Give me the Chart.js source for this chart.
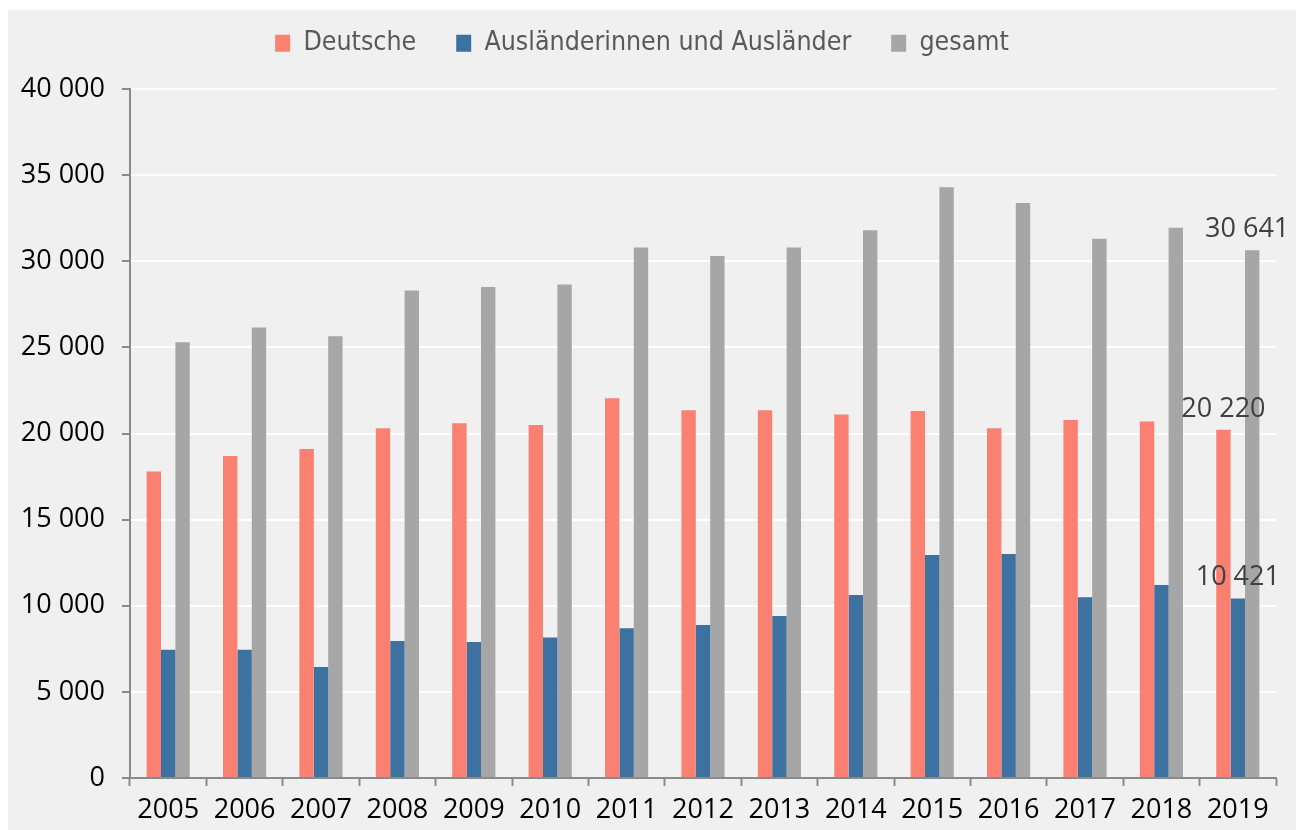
<!DOCTYPE html>
<html>
<head>
<meta charset="utf-8">
<script src="https://cdn.jsdelivr.net/npm/chart.js@4.4.1/dist/chart.umd.min.js"></script>
<style>
  html, body { margin: 0; padding: 0; background: #ffffff; }
  #wrap { position: absolute; left: 8px; top: 10px; width: 1288px; height: 820px; background: #f0f0f0; }
  canvas { display: block; }
</style>
</head>
<body>
<div id="wrap"><canvas id="c" width="1288" height="820"></canvas></div>
<script>
const years = ['2005','2006','2007','2008','2009','2010','2011','2012','2013','2014','2015','2016','2017','2018','2019'];
const deutsche = [17800, 18700, 19100, 20300, 20600, 20500, 22050, 21350, 21350, 21100, 21300, 20300, 20780, 20700, 20220];
const auslaender = [7450, 7450, 6450, 7950, 7900, 8150, 8700, 8880, 9400, 10620, 12950, 13000, 10500, 11200, 10421];
const gesamt = [25300, 26150, 25650, 28300, 28500, 28650, 30800, 30300, 30800, 31800, 34300, 33380, 31300, 31950, 30641];
const seriesNames = ['Deutsche', 'Ausländerinnen und Ausländer', 'gesamt'];
const seriesColors = ['#fa8072', '#3d72a0', '#a6a6a6'];

function fmt(v) {
  return String(Math.round(v)).replace(/\B(?=(\d{3})+(?!\d))/g, ' ');
}

const lastLabels = {
  id: 'lastLabels',
  afterDatasetsDraw(chart) {
    const ctx = chart.ctx;
    ctx.save();
    ctx.font = '27px "Open Sans", sans-serif';
    ctx.fillStyle = '#404040';
    ctx.textAlign = 'center';
    ctx.textBaseline = 'alphabetic';
    chart.data.datasets.forEach((ds, i) => {
      const meta = chart.getDatasetMeta(i);
      const idx = ds.data.length - 1;
      const bar = meta.data[idx];
      const dx = (i === 2) ? -5 : 0;
      ctx.fillText(fmt(ds.data[idx]), bar.x + dx, bar.y - 13);
    });
    ctx.restore();
  }
};

const legendHeightFix = {
  id: 'legendHeightFix',
  beforeLayout(chart) {
    const lg = chart.legend;
    if (lg && !lg._fixed) {
      lg._fixed = true;
      const origFit = lg.fit;
      lg.fit = function () { origFit.apply(this, arguments); this.height = 99; };
    }
  }
};

new Chart(document.getElementById('c'), {
  type: 'bar',
  data: {
    labels: years,
    datasets: [
      { label: seriesNames[0], data: deutsche, backgroundColor: seriesColors[0] },
      { label: seriesNames[1], data: auslaender, backgroundColor: seriesColors[1] },
      { label: seriesNames[2], data: gesamt, backgroundColor: seriesColors[2] }
    ]
  },
  options: {
    responsive: false,
    animation: false,
    devicePixelRatio: 1,
    categoryPercentage: 0.565,
    barPercentage: 1.0,
    layout: { padding: { left: 0, right: 20, top: -20, bottom: 0 } },
    plugins: {
      tooltip: { enabled: false },
      legend: {
        position: 'top',
        align: 'center',
        labels: {
          boxWidth: 15,
          boxHeight: 17,
          padding: 40,
          color: '#595959',
          font: { family: '"Liberation Sans Narrow", "DejaVu Sans Condensed", sans-serif', size: 26.5 }
        }
      }
    },
    scales: {
      x: {
        grid: { display: true, drawOnChartArea: false, drawTicks: true, tickLength: 8, tickColor: '#8a8a8a', tickWidth: 2 },
        border: { display: true, color: '#8a8a8a', width: 2 },
        ticks: { color: '#000000', padding: 8, font: { family: '"Open Sans", sans-serif', size: 27 }, maxRotation: 0 },
        afterFit(scale) { scale.height = 52; }
      },
      y: {
        min: 0,
        max: 40000,
        ticks: { stepSize: 5000, color: '#000000', padding: 17, font: { family: '"Open Sans", sans-serif', size: 27 }, callback: (v) => fmt(v) },
        grid: { color: '#ffffff', lineWidth: 2, tickLength: 8, tickColor: '#8a8a8a', tickWidth: 2 },
        border: { display: true, color: '#8a8a8a', width: 2 },
        afterFit(scale) { scale.width = 122; }
      }
    }
  },
  plugins: [legendHeightFix, lastLabels]
});
</script>
</body>
</html>
